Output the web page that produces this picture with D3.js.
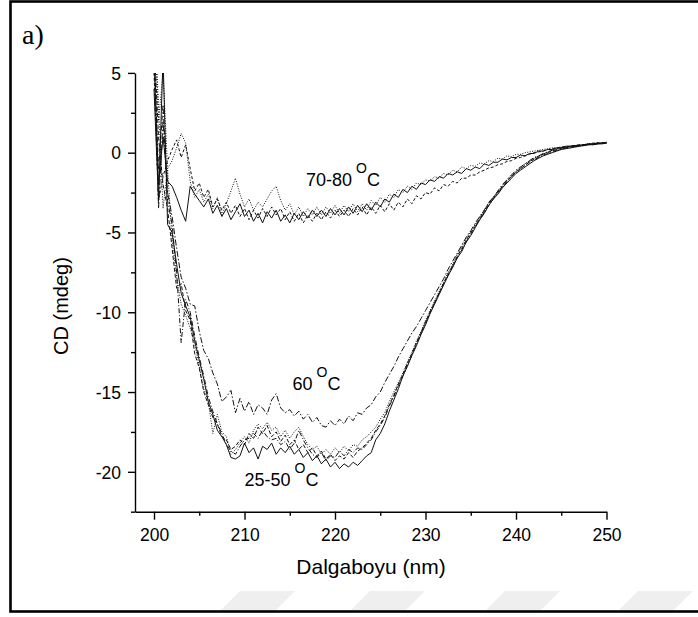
<!DOCTYPE html>
<html>
<head>
<meta charset="utf-8">
<script src="https://cdn.jsdelivr.net/npm/d3@7"></script>
<style>
  body { margin: 0; background: #fff; }
  svg { display: block; }
  .axis text { font-family: "Liberation Sans", Arial, sans-serif; font-size: 17.5px; fill: #000; }
  .axis path, .axis line { stroke: #000; stroke-width: 1.4; }
</style>
</head>
<body>
<svg id="chart" width="698" height="617"></svg>
<script>
'use strict'

// wavelength grid, 0.5 nm steps 200..250
var wavelength = d3.range(0, 101).map(i => 200 + i * 0.5)

// 25-50 oC group
var cd25 = [4.0,-3.0,6.0,-4.5,-5.0,-7.0,-8.8,-9.6,-10.3,-11.8,-13.0,-14.2,-15.6,-16.4,-17.4,-17.8,-18.3,-19.1,-19.2,-19.0,
  -18.2,-18.8,-18.5,-19.2,-18.4,-18.6,-18.2,-18.9,-18.5,-18.8,-18.4,-18.9,-18.6,-19.1,-18.8,-19.3,-19.0,-19.5,-19.2,-19.7,
  -19.4,-19.8,-19.5,-19.7,-19.4,-19.6,-19.3,-19.0,-18.8,-18.0,-17.6,-17.0,-16.2,-15.5,-14.8,-14.0,-13.4,-12.7,-12.1,-11.4,
  -10.8,-10.1,-9.5,-8.9,-8.3,-7.7,-7.2,-6.6,-6.2,-5.6,-5.2,-4.7,-4.2,-3.8,-3.3,-2.9,-2.6,-2.2,-1.9,-1.6,
  -1.3,-1.1,-0.9,-0.7,-0.5,-0.35,-0.2,-0.1,0.0,0.1,0.2,0.25,0.3,0.35,0.4,0.45,0.5,0.5,0.55,0.55,0.6]
var cd30 = [7.0,1.0,-2.0,-3.5,-6.0,-8.5,-8.2,-9.9,-10.5,-12.6,-13.5,-15.0,-15.8,-16.6,-17.0,-17.8,-18.0,-18.6,-18.4,-18.0,
  -18.3,-17.6,-17.9,-17.2,-17.6,-17.1,-17.8,-17.5,-18.1,-17.7,-18.3,-18.0,-18.6,-18.3,-18.8,-18.5,-19.0,-18.7,-19.2,-18.9,
  -19.3,-19.0,-19.2,-18.8,-19.1,-18.7,-18.5,-18.2,-17.9,-17.4,-17.0,-16.5,-15.8,-15.2,-14.5,-13.9,-13.2,-12.6,-11.9,-11.3,
  -10.6,-10.0,-9.4,-8.8,-8.2,-7.6,-7.1,-6.5,-6.0,-5.5,-5.0,-4.6,-4.1,-3.7,-3.2,-2.8,-2.5,-2.1,-1.8,-1.5,
  -1.2,-1.0,-0.8,-0.55,-0.4,-0.25,-0.1,0.0,0.1,0.2,0.25,0.3,0.35,0.4,0.45,0.5,0.5,0.55,0.6,0.6,0.65]
var cd40 = [9.0,2.0,5.0,-1.0,-5.5,-7.8,-9.5,-10.2,-11.0,-12.0,-13.4,-14.8,-15.6,-17.6,-16.4,-17.5,-17.8,-18.9,-18.6,-18.2,
  -17.8,-18.2,-17.4,-17.0,-17.3,-16.9,-17.4,-17.2,-17.8,-17.4,-17.9,-17.5,-17.2,-17.8,-18.3,-18.6,-18.4,-18.9,-18.6,-18.9,
  -18.5,-18.8,-18.4,-18.7,-18.3,-18.4,-18.0,-17.8,-17.5,-17.2,-16.7,-16.3,-15.6,-15.0,-14.4,-13.8,-13.1,-12.5,-11.8,-11.2,
  -10.5,-9.9,-9.3,-8.7,-8.1,-7.5,-7.0,-6.4,-5.9,-5.4,-4.9,-4.5,-4.0,-3.6,-3.1,-2.8,-2.4,-2.1,-1.7,-1.4,
  -1.2,-0.9,-0.7,-0.5,-0.35,-0.2,-0.1,0.05,0.15,0.2,0.3,0.3,0.4,0.4,0.45,0.5,0.55,0.55,0.6,0.6,0.6]
var cd50 = [6.0,-1.0,3.0,-3.0,-4.5,-7.5,-11.9,-9.2,-10.0,-11.5,-12.8,-14.0,-15.3,-16.2,-17.0,-17.6,-18.3,-18.7,-18.9,-18.4,
  -18.0,-17.9,-17.6,-17.9,-17.4,-17.8,-18.0,-17.9,-18.3,-18.1,-18.6,-18.2,-17.4,-18.0,-18.5,-18.9,-19.1,-18.8,-19.3,-19.0,
  -19.1,-18.7,-19.0,-18.6,-18.8,-18.5,-18.6,-18.3,-18.0,-17.5,-17.1,-16.6,-15.9,-15.3,-14.6,-14.0,-13.3,-12.7,-12.0,-11.3,
  -10.7,-10.0,-9.4,-8.8,-8.2,-7.7,-7.1,-6.6,-6.1,-5.6,-5.1,-4.6,-4.2,-3.7,-3.3,-2.9,-2.5,-2.2,-1.8,-1.5,
  -1.25,-1.0,-0.8,-0.6,-0.45,-0.3,-0.15,-0.05,0.05,0.15,0.2,0.3,0.3,0.4,0.4,0.45,0.5,0.5,0.55,0.6,0.6]

// 60 oC
var cd60 = [8.0,-3.5,2.0,-2.5,-4.0,-6.0,-7.8,-8.5,-9.5,-9.6,-11.2,-12.4,-12.9,-13.8,-14.5,-15.6,-15.3,-14.9,-16.3,-15.4,
  -16.2,-15.6,-16.4,-15.8,-16.0,-16.4,-15.5,-15.1,-16.0,-16.3,-16.1,-16.5,-16.2,-16.7,-16.4,-16.9,-16.6,-17.1,-17.2,-16.8,
  -17.1,-16.7,-17.0,-16.5,-16.8,-16.3,-16.4,-16.0,-15.8,-15.3,-15.0,-14.4,-13.9,-13.4,-12.8,-12.3,-11.8,-11.3,-10.9,-10.4,
  -9.9,-9.4,-8.9,-8.4,-7.9,-7.3,-6.8,-6.3,-5.8,-5.3,-4.9,-4.4,-4.0,-3.6,-3.1,-2.8,-2.4,-2.0,-1.7,-1.4,
  -1.1,-0.9,-0.7,-0.5,-0.3,-0.2,-0.05,0.05,0.15,0.25,0.3,0.35,0.4,0.45,0.45,0.5,0.55,0.55,0.6,0.6,0.65]

// 70-80 oC group
var cd70 = [6.0,-2.0,1.0,-1.8,-2.1,-2.8,-3.6,-4.3,-2.1,-2.6,-3.0,-3.4,-2.9,-3.8,-3.3,-4.0,-3.5,-4.2,-3.7,-3.2,
  -4.0,-3.6,-4.3,-3.8,-4.4,-3.7,-4.1,-3.6,-4.3,-3.9,-4.4,-3.8,-4.2,-3.7,-4.1,-3.6,-4.0,-3.6,-4.0,-3.5,
  -3.9,-3.5,-3.9,-3.4,-3.8,-3.3,-3.7,-3.2,-3.6,-3.1,-3.4,-2.9,-3.1,-2.6,-2.8,-2.3,-2.5,-2.1,-2.3,-1.9,
  -2.0,-1.7,-1.8,-1.5,-1.6,-1.3,-1.4,-1.2,-1.3,-1.0,-1.1,-0.9,-1.0,-0.7,-0.8,-0.6,-0.6,-0.4,-0.45,-0.3,
  -0.3,-0.15,-0.2,-0.05,-0.05,0.1,0.1,0.2,0.2,0.3,0.3,0.4,0.4,0.45,0.45,0.5,0.5,0.55,0.55,0.6,0.6]
var cd75 = [5.0,-3.0,-1.5,-0.5,0.2,0.8,-0.3,0.5,-1.0,-2.4,-1.9,-2.8,-2.3,-3.4,-2.9,-3.6,-3.1,-3.8,-3.3,-4.0,
  -3.5,-4.2,-3.6,-4.1,-3.5,-4.0,-3.4,-3.9,-3.5,-4.2,-3.7,-4.3,-3.8,-4.4,-3.9,-4.3,-3.8,-4.2,-3.7,-4.1,
  -3.6,-4.0,-3.6,-4.0,-3.5,-3.9,-3.4,-3.9,-3.4,-3.8,-3.3,-3.7,-3.2,-3.6,-3.1,-3.4,-2.9,-3.2,-2.7,-2.9,
  -2.5,-2.6,-2.2,-2.4,-2.0,-2.1,-1.8,-1.9,-1.6,-1.6,-1.4,-1.4,-1.2,-1.1,-0.95,-0.9,-0.75,-0.7,-0.55,-0.5,
  -0.35,-0.3,-0.2,-0.1,0.0,0.05,0.1,0.2,0.25,0.3,0.35,0.4,0.4,0.45,0.5,0.5,0.55,0.6,0.6,0.6,0.6]
var cd80 = [9.0,3.0,-3.5,-1.0,-0.5,0.3,1.2,0.6,-1.8,-2.8,-2.3,-3.1,-2.6,-3.5,-2.8,-3.9,-3.2,-2.4,-1.6,-2.6,
  -3.4,-2.9,-3.6,-3.1,-3.4,-2.9,-2.4,-2.1,-3.0,-3.6,-3.2,-3.9,-3.4,-4.0,-3.5,-3.9,-3.4,-3.9,-3.4,-3.8,
  -3.3,-3.8,-3.3,-3.7,-3.2,-3.7,-3.2,-3.6,-3.0,-3.3,-2.8,-3.1,-2.6,-2.8,-2.3,-2.5,-2.1,-2.3,-1.9,-2.0,
  -1.7,-1.8,-1.5,-1.6,-1.3,-1.4,-1.1,-1.2,-0.9,-1.0,-0.8,-0.85,-0.65,-0.7,-0.5,-0.55,-0.35,-0.4,-0.2,-0.25,
  -0.1,-0.1,0.0,0.05,0.1,0.15,0.2,0.25,0.3,0.3,0.35,0.4,0.4,0.45,0.5,0.5,0.55,0.55,0.6,0.6,0.65]

var series = [
  {values: cd25, dash: null},
  {values: cd30, dash: "4,2"},
  {values: cd40, dash: "1,1.5"},
  {values: cd50, dash: "5,2,1,2"},
  {values: cd60, dash: "6,2,1.5,2"},
  {values: cd70, dash: null},
  {values: cd75, dash: "3,2"},
  {values: cd80, dash: "1,1.5"}
]

var xMajor = [200, 210, 220, 230, 240, 250]
var xMinor = [205, 215, 225, 235, 245]
var yMajor = [5, 0, -5, -10, -15, -20]
var yMinor = [2.5, -2.5, -7.5, -12.5, -17.5, -22.5]

var labels = [
  {text: "70-80", x: 216.8, y: -2.1},
  {text: "60", x: 215.3, y: -14.9},
  {text: "25-50", x: 210.0, y: -20.9}
]

var svg = d3.select("#chart")

// faint watermark stripes at the bottom
var stripes = [240, 370, 505, 638]
svg.selectAll("polygon.wm")
  .data(stripes)
  .enter().append("polygon")
    .attr("class", "wm")
    .attr("points", d => [[d, 591], [d + 55, 591], [d + 35, 611], [d - 20, 611]].join(" "))
    .attr("fill", "#efefef")

// frame
svg.append("rect")
  .attr("x", 10.5).attr("y", 1.5)
  .attr("width", 700).attr("height", 610)
  .attr("fill", "none")
  .attr("stroke", "#000")
  .attr("stroke-width", 2.6)

var x = d3.scaleLinear().domain([197.9, 250]).range([135, 606.5])
var y = d3.scaleLinear().domain([-22.5, 5]).range([511.7, 72.9])

svg.append("defs").append("clipPath").attr("id", "plot")
  .append("rect")
    .attr("x", x(197.9)).attr("y", y(5))
    .attr("width", x(250) - x(197.9) + 2)
    .attr("height", y(-22.5) - y(5))

var line = d3.line()
  .x((d, i) => x(wavelength[i]))
  .y(d => y(d))

svg.append("g")
  .attr("clip-path", "url(#plot)")
  .selectAll("path")
  .data(series)
  .enter().append("path")
    .attr("d", d => line(d.values))
    .attr("fill", "none")
    .attr("stroke", "#111")
    .attr("stroke-width", 1)
    .attr("stroke-dasharray", d => d.dash)

// axes
var fmt = d => String(d)
var gx = svg.append("g").attr("class", "axis")
  .attr("transform", "translate(0," + y(-22.5) + ")")
gx.call(d3.axisBottom(x).tickValues(xMajor).tickSize(8).tickSizeOuter(0).tickPadding(9).tickFormat(fmt))
gx.append("g").call(d3.axisBottom(x).tickValues(xMinor).tickSize(4).tickFormat(""))
  .select(".domain").remove()

var gy = svg.append("g").attr("class", "axis")
  .attr("transform", "translate(" + x(197.9) + ",0)")
gy.call(d3.axisLeft(y).tickValues(yMajor).tickSize(7).tickSizeOuter(0).tickPadding(7).tickFormat(fmt))
gy.append("g").call(d3.axisLeft(y).tickValues(yMinor).tickSize(4).tickFormat(""))
  .select(".domain").remove()
gy.selectAll("text").attr("dy", "0.36em")

// axis titles
svg.append("text")
  .attr("x", 371).attr("y", 574)
  .attr("text-anchor", "middle")
  .style("font-family", "Liberation Sans, Arial, sans-serif")
  .style("font-size", "21px")
  .text("Dalgaboyu (nm)")

svg.append("text")
  .attr("transform", "translate(68,306) rotate(-90)")
  .attr("text-anchor", "middle")
  .style("font-family", "Liberation Sans, Arial, sans-serif")
  .style("font-size", "20px")
  .text("CD (mdeg)")

// panel letter
svg.append("text")
  .attr("x", 22).attr("y", 44)
  .style("font-family", "Liberation Serif, Times New Roman, serif")
  .style("font-size", "28px")
  .text("a)")

// temperature labels
var lab = svg.selectAll("text.lab")
  .data(labels)
  .enter().append("text")
    .attr("class", "lab")
    .attr("x", d => x(d.x))
    .attr("y", d => y(d.y))
    .style("font-family", "Liberation Sans, Arial, sans-serif")
    .style("font-size", "18px")
lab.append("tspan").text(d => d.text)
lab.append("tspan").attr("dx", 4).attr("dy", -13).style("font-size", "14px").text("O")
lab.append("tspan").attr("dy", 13).text("C")
</script>
</body>
</html>
